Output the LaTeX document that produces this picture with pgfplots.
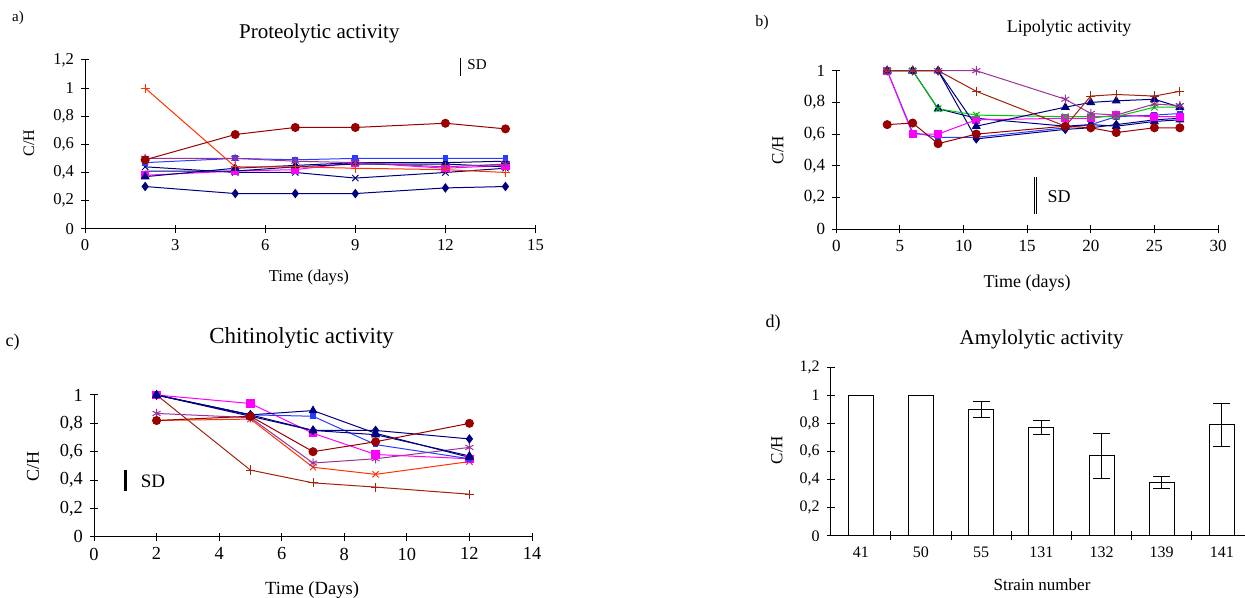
\documentclass[border=0pt]{standalone}
\usepackage{fontspec}
\setmainfont{Liberation Serif}
\usepackage{pgfplots}
\pgfplotsset{compat=1.18}

\definecolor{dred}{RGB}{153,0,0}
\definecolor{brn}{RGB}{160,35,10}
\definecolor{ored}{RGB}{255,51,0}
\definecolor{navy}{RGB}{0,0,128}
\definecolor{bblue}{RGB}{40,60,255}
\definecolor{mag}{RGB}{255,0,255}
\definecolor{purp}{RGB}{153,51,153}
\definecolor{grn}{RGB}{0,200,0}

\pgfplotsset{
  every axis title shift=0pt,
  panel/.style={scale only axis, axis lines=left,
    axis line style={-,black,line width=0.5pt},
    tick align=center, major tick length=4pt,
    tick style={black,line width=0.5pt}, clip=false,
    /pgf/number format/assume math mode=true,
    title style={anchor=center}, xlabel style={anchor=center},
    ylabel style={anchor=center}},
  sCirc/.style={dred, line width=0.5pt, mark=*, mark size=2pt, mark options={solid,fill=dred}},
  sPlus/.style={brn, line width=0.5pt, mark=+, mark size=2.3pt},
  sPlusO/.style={ored, line width=0.5pt, mark=+, mark size=2.3pt},
  sDiam/.style={navy, line width=0.5pt, mark=diamond*, mark size=2pt, mark options={fill=navy}},
  sTri/.style={navy, line width=0.5pt, mark=triangle*, mark size=2.1pt, mark options={fill=navy}},
  sXn/.style={navy, line width=0.5pt, mark=x, mark size=2.2pt},
  sXo/.style={ored, line width=0.5pt, mark=x, mark size=2.2pt},
  sXg/.style={grn, line width=0.5pt, mark=x, mark size=2.3pt},
  sAst/.style={purp, line width=0.5pt, mark=asterisk, mark size=2.3pt},
  sSqM/.style={mag, line width=0.5pt, mark=square*, mark size=1.8pt, mark options={fill=mag}},
  sSqB/.style={bblue, line width=0.5pt, mark=square*, mark size=1.2pt, mark options={fill=bblue}},
}

\begin{document}
\begin{tikzpicture}
\useasboundingbox (0,0) rectangle (622.5pt,299pt);

% a) Proteolytic activity
\begin{axis}[panel, at={(42.55pt,184.65pt)}, anchor=south west,
  width=225.2pt, height=84.35pt,
  xmin=0, xmax=15, ymin=0, ymax=1.2,
  xtick={0,3,6,9,12,15},
  ytick={0,0.2,0.4,0.6,0.8,1,1.2},
  yticklabels={0,{0,2},{0,4},{0,6},{0,8},1,{1,2}},
  tick label style={font=\fontsize{8.3}{9}\selectfont},
  title={Proteolytic activity},
  title style={at={(axis description cs:0.52,1.16)}, font=\fontsize{10.5}{12}\selectfont},
  xlabel={Time (days)},
  xlabel style={at={(axis description cs:0.497,-0.29)}, font=\fontsize{8.3}{9}\selectfont},
  ylabel={C/H},
  ylabel style={at={(axis description cs:-0.125,0.508)}, font=\fontsize{8}{9}\selectfont},
]
\addplot[sDiam] coordinates {(2,0.30) (5,0.25) (7,0.25) (9,0.25) (12,0.29) (14,0.30)};
\addplot[sXn] coordinates {(2,0.44) (5,0.40) (7,0.40) (9,0.36) (12,0.40) (14,0.43)};
\addplot[sSqM] coordinates {(2,0.38) (5,0.41) (7,0.42) (9,0.47) (12,0.43) (14,0.45)};
\addplot[sTri] coordinates {(2,0.37) (5,0.43) (7,0.45) (9,0.47) (12,0.47) (14,0.48)};
\addplot[navy, line width=0.5pt] coordinates {(2,0.41) (5,0.41) (7,0.44) (9,0.46) (12,0.46) (14,0.44)};
\addplot[sSqB] coordinates {(2,0.47) (5,0.50) (7,0.49) (9,0.50) (12,0.50) (14,0.50)};
\addplot[sAst] coordinates {(2,0.50) (5,0.50) (7,0.48) (9,0.47) (12,0.44) (14,0.46)};
\addplot[sPlusO] coordinates {(2,1.00) (5,0.44) (7,0.44) (9,0.43) (12,0.42) (14,0.40)};
\addplot[sCirc] coordinates {(2,0.49) (5,0.67) (7,0.72) (9,0.72) (12,0.75) (14,0.71)};
% SD bar
\addplot[black, line width=0.9pt] coordinates {(12.5,1.086) (12.5,1.214)};
\end{axis}

% b) Lipolytic activity
\begin{axis}[panel, at={(418.15pt,184.35pt)}, anchor=south west,
  width=190.85pt, height=79.3pt,
  xmin=0, xmax=30, ymin=0, ymax=1,
  xtick={0,5,10,15,20,25,30},
  ytick={0,0.2,0.4,0.6,0.8,1},
  yticklabels={0,{0,2},{0,4},{0,6},{0,8},1},
  tick label style={font=\fontsize{8.5}{9}\selectfont},
  title={Lipolytic activity},
  title style={at={(axis description cs:0.61,1.27)}, font=\fontsize{9}{10}\selectfont},
  xlabel={Time (days)},
  xlabel style={at={(axis description cs:0.5,-0.34)}, font=\fontsize{9}{10}\selectfont},
  ylabel={C/H},
  ylabel style={at={(axis description cs:-0.153,0.5)}, font=\fontsize{8.5}{9}\selectfont},
]
\addplot[sSqB] coordinates {(4,1) (6,0.61) (8,0.58) (11,0.58) (18,0.64) (20,0.66) (22,0.71) (25,0.72) (27,0.73)};
\addplot[sDiam] coordinates {(4,1) (6,1) (8,1) (11,0.57) (18,0.63) (20,0.64) (22,0.66) (25,0.69) (27,0.70)};
\addplot[sTri] coordinates {(4,1) (6,1) (8,0.76) (11,0.70) (18,0.65) (20,0.66) (22,0.65) (25,0.68) (27,0.69)};
\addplot[sSqM] coordinates {(4,1) (6,0.60) (8,0.60) (11,0.69) (18,0.70) (20,0.70) (22,0.72) (25,0.71) (27,0.71)};
\addplot[sXg] coordinates {(4,1) (6,1) (8,0.76) (11,0.72) (18,0.71) (20,0.71) (22,0.71) (25,0.77) (27,0.77)};
\addplot[sTri] coordinates {(4,1) (6,1) (8,1) (11,0.65) (18,0.77) (20,0.80) (22,0.81) (25,0.82) (27,0.77)};
\addplot[sAst] coordinates {(4,1) (6,1) (8,1) (11,1) (18,0.82) (20,0.73) (22,0.72) (25,0.79) (27,0.78)};
\addplot[sPlus] coordinates {(4,1) (6,1) (8,1) (11,0.87) (18,0.65) (20,0.84) (22,0.85) (25,0.84) (27,0.87)};
\addplot[sCirc] coordinates {(4,0.66) (6,0.67) (8,0.54) (11,0.60) (18,0.65) (20,0.64) (22,0.61) (25,0.64) (27,0.64)};
% SD bar
\addplot[black, line width=0.4pt, double=white, double distance=0.9pt] coordinates {(15.66,0.095) (15.66,0.33)};
\end{axis}

% c) Chitinolytic activity
\begin{axis}[panel, at={(47pt,30.65pt)}, anchor=south west,
  width=219pt, height=70.85pt,
  xmin=0, xmax=14, ymin=0, ymax=1,
  xtick={0,2,4,6,8,10,12,14},
  ytick={0,0.2,0.4,0.6,0.8,1},
  yticklabels={0,{0,2},{0,4},{0,6},{0,8},1},
  tick label style={font=\fontsize{9.2}{10}\selectfont},
  title={Chitinolytic activity},
  title style={at={(axis description cs:0.474,1.402)}, font=\fontsize{11.5}{13}\selectfont},
  xlabel={Time (Days)},
  xlabel style={at={(axis description cs:0.498,-0.376)}, font=\fontsize{9.3}{10}\selectfont},
  ylabel={C/H},
  ylabel style={at={(axis description cs:-0.139,0.492)}, font=\fontsize{9}{10}\selectfont},
]
\addplot[sPlus] coordinates {(2,1.00) (5,0.47) (7,0.38) (9,0.35) (12,0.30)};
\addplot[sXo] coordinates {(2,0.82) (5,0.83) (7,0.49) (9,0.44) (12,0.53)};
\addplot[sAst] coordinates {(2,0.87) (5,0.84) (7,0.52) (9,0.55) (12,0.63)};
\addplot[sSqM] coordinates {(2,1.00) (5,0.94) (7,0.73) (9,0.58) (12,0.55)};
\addplot[sSqB] coordinates {(2,1.00) (5,0.86) (7,0.85) (9,0.65) (12,0.55)};
\addplot[sTri] coordinates {(2,1.00) (5,0.85) (7,0.75) (9,0.72) (12,0.57)};
\addplot[sTri] coordinates {(2,1.00) (5,0.86) (7,0.89) (9,0.73) (12,0.56)};
\addplot[sDiam] coordinates {(2,1.00) (5,0.86) (7,0.75) (9,0.75) (12,0.69)};
\addplot[sCirc] coordinates {(2,0.82) (5,0.85) (7,0.60) (9,0.67) (12,0.80)};
% SD bar
\addplot[black, line width=1.3pt] coordinates {(1.01,0.325) (1.01,0.47)};
\end{axis}

% d) Amylolytic activity
\begin{axis}[panel, at={(415.35pt,31pt)}, anchor=south west,
  width=207.15pt, height=84.35pt,
  xmin=-0.5, xmax=6.385, ymin=0, ymax=1.2,
  xtick={0,1,2,3,4,5,6},
  xticklabels={41,50,55,131,132,139,141},
  major x tick style={draw=none},
  minor xtick={0.5,1.5,2.5,3.5,4.5,5.5},
  minor tick length=4.5pt,
  minor x tick style={black,line width=0.5pt},
  ytick={0,0.2,0.4,0.6,0.8,1,1.2},
  yticklabels={0,{0,2},{0,4},{0,6},{0,8},1,{1,2}},
  tick label style={font=\fontsize{8}{9}\selectfont},
  title={Amylolytic activity},
  title style={at={(axis description cs:0.509,1.162)}, font=\fontsize{10.5}{12}\selectfont},
  xlabel={Strain number},
  xlabel style={at={(axis description cs:0.51,-0.29)}, font=\fontsize{8.5}{9}\selectfont},
  ylabel={C/H},
  ylabel style={at={(axis description cs:-0.13,0.51)}, font=\fontsize{8.5}{9}\selectfont},
]
\addplot[ybar, bar width=12.5pt, fill=white, draw=black, line width=0.5pt,
  error bars/.cd, y dir=both, y explicit,
  error bar style={black, line width=0.5pt},
  error mark options={black, rotate=90, mark size=4.2pt, line width=0.5pt}]
  coordinates {
    (0,1.00) +- (0,0)
    (1,1.00) +- (0,0)
    (2,0.90) +- (0,0.06)
    (3,0.77) +- (0,0.05)
    (4,0.57) +- (0,0.16)
    (5,0.38) +- (0,0.045)
    (6,0.79) +- (0,0.15)
  };
\end{axis}

% panel letters and SD labels
\node[font=\fontsize{7.5}{8}\selectfont] at (9pt,290pt) {a)};
\node[font=\fontsize{8}{9}\selectfont] at (381pt,287.5pt) {b)};
\node[font=\fontsize{9}{10}\selectfont] at (6.3pt,128pt) {c)};
\node[font=\fontsize{9}{10}\selectfont] at (386.5pt,137.5pt) {d)};
\node[font=\fontsize{7.5}{8}\selectfont] at (238.5pt,266.5pt) {SD};
\node[font=\fontsize{9}{10}\selectfont] at (529.5pt,200.5pt) {SD};
\node[font=\fontsize{9.5}{10}\selectfont] at (76.5pt,58.2pt) {SD};
\end{tikzpicture}
\end{document}
